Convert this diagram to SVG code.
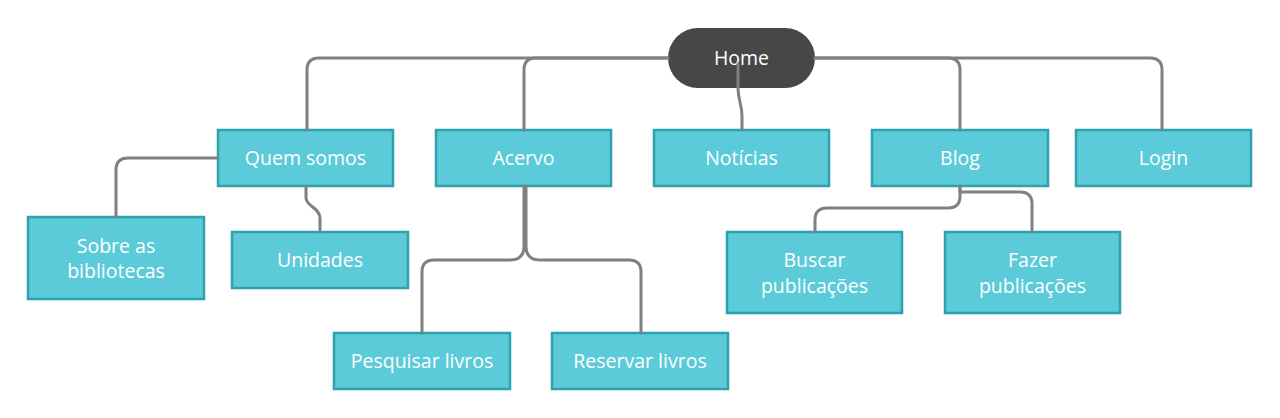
<svg xmlns="http://www.w3.org/2000/svg" width="1280" height="418" viewBox="0 0 1280 418">
<style>
.box{fill:#5BCBD9;stroke:#2EA1AE;stroke-width:2.5}
.home{fill:#474747}
.t{fill:#ffffff;font-family:"Open Sans","Noto Sans","Liberation Sans",sans-serif;font-size:19.5px;text-anchor:middle;dominant-baseline:central}
.c{fill:none;stroke:#808080;stroke-width:3;stroke-linecap:round;stroke-linejoin:round}
</style>
<rect width="1280" height="418" fill="#ffffff"/>
<g id="nodes">
<g id="home"><rect class="home" x="668" y="28" width="147" height="60" rx="30"/><text class="t" x="741.5" y="57">Home</text></g>
<g id="quem"><rect class="box" x="218" y="130" width="175" height="56"/><text class="t" x="305.5" y="157">Quem somos</text></g>
<g id="acervo"><rect class="box" x="436" y="130" width="175" height="56"/><text class="t" x="523.5" y="157">Acervo</text></g>
<g id="noticias"><rect class="box" x="654" y="130" width="175" height="56"/><text class="t" x="741.5" y="157">Notícias</text></g>
<g id="blog"><rect class="box" x="872" y="130" width="176" height="56"/><text class="t" x="960" y="157">Blog</text></g>
<g id="login"><rect class="box" x="1076" y="130" width="175" height="56"/><text class="t" x="1163.5" y="157">Login</text></g>
<g id="sobre"><rect class="box" x="28" y="217" width="176" height="82"/><text class="t" x="116" y="245">Sobre as</text><text class="t" x="116" y="270">bibliotecas</text></g>
<g id="unidades"><rect class="box" x="232" y="232" width="176" height="56"/><text class="t" x="320" y="259">Unidades</text></g>
<g id="pesquisar"><rect class="box" x="334" y="333" width="176" height="56"/><text class="t" x="422" y="360">Pesquisar livros</text></g>
<g id="reservar"><rect class="box" x="552" y="333" width="176" height="56"/><text class="t" x="640" y="360">Reservar livros</text></g>
<g id="buscar"><rect class="box" x="727" y="232" width="175" height="81"/><text class="t" x="814.5" y="259">Buscar</text><text class="t" x="814.5" y="285">publicações</text></g>
<g id="fazer"><rect class="box" x="945" y="232" width="175" height="81"/><text class="t" x="1032.5" y="259">Fazer</text><text class="t" x="1032.5" y="285">publicações</text></g>
</g>
<g id="connectors">
<path class="c" d="M668,58 H319 Q307,58 307,70 V130"/>
<path class="c" d="M668,58 H536 Q524,58 524,70 V130"/>
<path class="c" d="M815,58 H948 Q960,58 960,70 V130"/>
<path class="c" d="M815,58 H1150 Q1162,58 1162,70 V130"/>
<path class="c" d="M738,64 V88 C738,100 742,104 742,116 V130"/>
<path class="c" d="M218,158 H128 Q116,158 116,170 V217"/>
<path class="c" d="M306,186 V198 C306,206 320,208 320,218 V232"/>
<path class="c" d="M524,186 V246 Q524,260 510,260 H434 Q422,260 422,272 V333"/>
<path class="c" d="M526,186 V246 Q526,260 540,260 H629 Q641,260 641,272 V333"/>
<path class="c" d="M960,186 V196 Q960,208 948,208 H827 Q815,208 815,220 V232"/>
<path class="c" d="M960,186 V192 H1020 Q1032,192 1032,204 V232"/>
</g>
</svg>
